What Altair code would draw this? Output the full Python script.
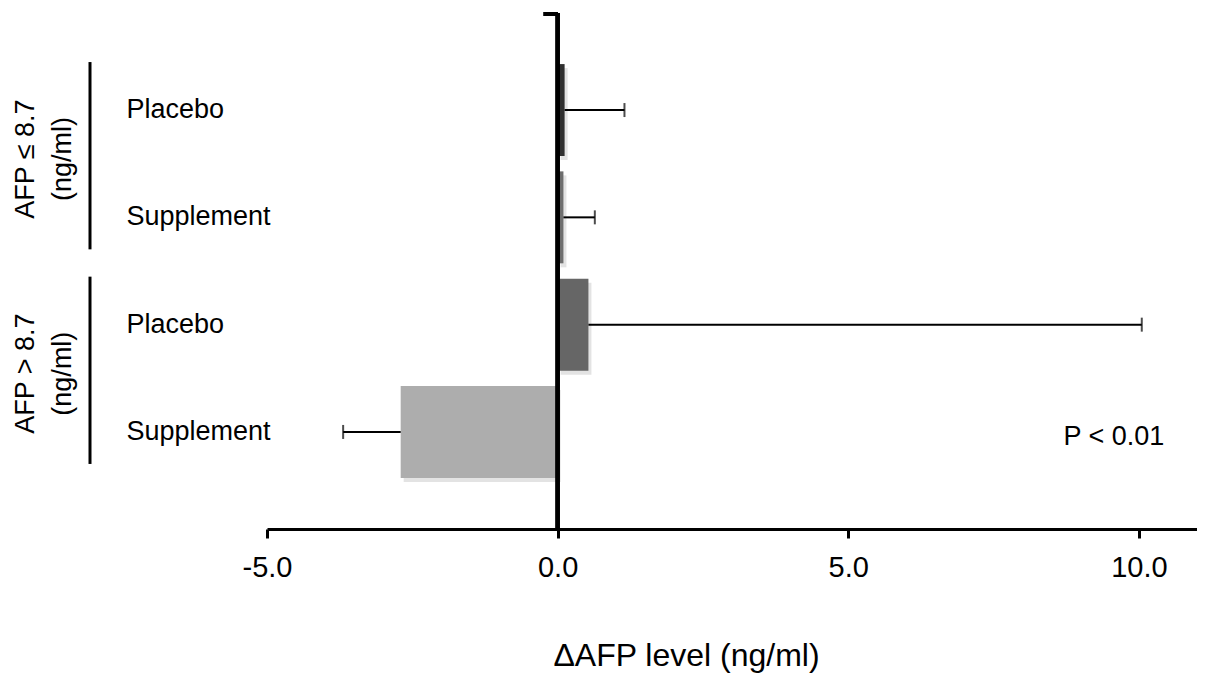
import altair as alt
import pandas as pd

# ---- data ----
rows = ["le|Placebo", "le|Supplement", "gt|Placebo", "gt|Supplement"]
values = [0.12, 0.10, 0.53, -2.70]
err_end = [1.15, 0.64, 10.05, -3.69]
colors = ["#303030", "#6e6e6e", "#666666", "#adadad"]

group_first = ["le|Placebo", "gt|Placebo"]
group_last = ["le|Supplement", "gt|Supplement"]
group_text = ["AFP \u2264 8.7\n(ng/ml)", "AFP > 8.7\n(ng/ml)"]

x_ticks = [-5, 0, 5, 10]
x_domain = [-5, 11]
p_text = "P < 0.01"
p_x = 9.57
p_row = "gt|Supplement"

FONT = "Liberation Sans"
W, H = 930, 516

df = pd.DataFrame({"row": rows, "value": values, "err": err_end, "color": colors})
gdf = pd.DataFrame({"first": group_first, "last": group_last, "text": group_text})

yscale = alt.Scale(domain=rows, paddingInner=0.143, paddingOuter=0.476)
xscale = alt.Scale(domain=x_domain, nice=False, zero=False)

y_enc = alt.Y(
    "row:N",
    scale=yscale,
    sort=rows,
    title=None,
    axis=alt.Axis(
        domain=False,
        ticks=False,
        tickSize=0,
        labelAlign="left",
        labelBaseline="middle",
        labelPadding=141,
        labelFontSize=27,
        labelFont=FONT,
        labelColor="black",
        labelExpr="split(datum.label, '|')[1]",
        grid=False,
    ),
)

x_enc = alt.X(
    "value:Q",
    scale=xscale,
    title="\u0394AFP level (ng/ml)",
    axis=alt.Axis(
        values=x_ticks,
        labelExpr="replace(format(datum.value, '.1f'), '\u2212', '-')",
        labelFlush=False,
        domainColor="black",
        domainWidth=3,
        tickColor="black",
        tickWidth=3,
        tickSize=9,
        labelPadding=15,
        labelFontSize=29,
        labelFont=FONT,
        labelColor="black",
        titleFont=FONT,
        titleFontSize=32,
        titleFontWeight="normal",
        titleColor="black",
        titleX=419,
        titleY=111,
        titleAlign="center",
        titleBaseline="top",
        grid=False,
    ),
)

base = alt.Chart(df)

shadow = base.mark_bar(color="#d0d0d0", opacity=0.6, xOffset=3, x2Offset=3, yOffset=4, y2Offset=4).encode(
    y=y_enc,
    x=x_enc,
    x2=alt.datum(0),
)

bars = base.mark_bar().encode(
    y=alt.Y("row:N", sort=rows),
    x=alt.X("value:Q"),
    x2=alt.datum(0),
    color=alt.Color("color:N", scale=None),
)

err_line = base.mark_rule(color="black", strokeWidth=2).encode(
    y=alt.Y("row:N", sort=rows),
    x=alt.X("value:Q"),
    x2="err:Q",
)

err_cap = base.mark_tick(color="black", thickness=2, size=14, orient="vertical").encode(
    y=alt.Y("row:N", sort=rows),
    x=alt.X("err:Q"),
)

zero_line = alt.Chart(df).mark_rule(color="black", strokeWidth=4).encode(
    x=alt.datum(0),
    y=alt.value(0),
    y2=alt.value(H),
)

top_cap = alt.Chart(df).mark_rule(color="black", strokeWidth=4).encode(
    x=alt.datum(-0.24),
    x2=alt.datum(0),
    y=alt.value(1),
)

group_rule = alt.Chart(gdf).mark_rule(color="black", strokeWidth=3, yOffset=-48, y2Offset=32).encode(
    x=alt.value(-177),
    y=alt.Y("first:N", sort=rows),
    y2="last:N",
)

group_lbl = alt.Chart(gdf).mark_text(
    angle=270,
    align="center",
    baseline="middle",
    lineBreak="\n",
    lineHeight=37,
    fontSize=27,
    font=FONT,
    color="black",
    yOffset=49,
).encode(
    x=alt.value(-241),
    y=alt.Y("first:N", sort=rows),
    text="text:N",
)

p_lbl = alt.Chart(pd.DataFrame({"t": [p_text], "x": [p_x], "row": [p_row]})).mark_text(
    align="center", baseline="middle", fontSize=27, font=FONT, color="black", yOffset=5
).encode(
    x=alt.X("x:Q"),
    y=alt.Y("row:N", sort=rows),
    text="t:N",
)

chart = (
    alt.layer(shadow, bars, err_line, err_cap, zero_line, top_cap, group_rule, group_lbl, p_lbl)
    .properties(
        width=W,
        height=H,
        autosize=alt.AutoSizeParams(type="none"),
        padding={"left": 259, "top": 5, "right": 0, "bottom": 150},
        background="white",
    )
    .configure_view(stroke=None)
)

chart.save("out.html", embed_options={"renderer": "svg", "actions": False})
